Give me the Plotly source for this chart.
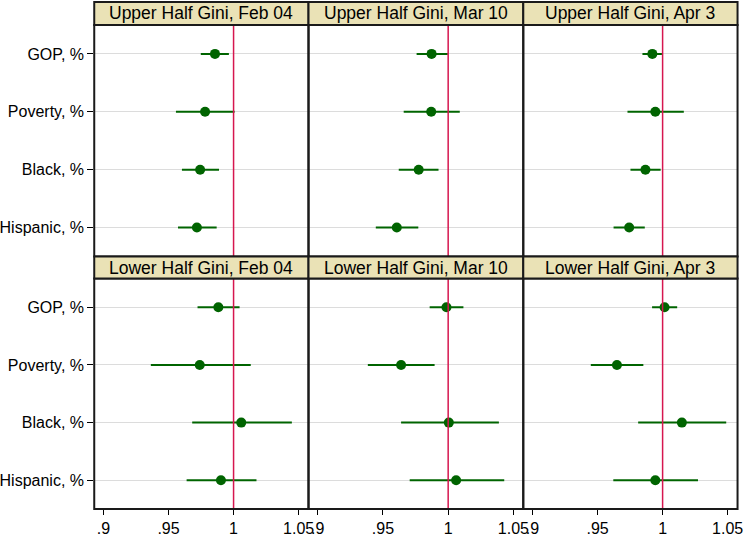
import plotly.graph_objects as go

W, H = 749, 537

variables = ["GOP, %", "Poverty, %", "Black, %", "Hispanic, %"]
titles = ["Upper Half Gini, Feb 04", "Upper Half Gini, Mar 10", "Upper Half Gini, Apr 3",
          "Lower Half Gini, Feb 04", "Lower Half Gini, Mar 10", "Lower Half Gini, Apr 3"]

# point estimates per panel (GOP, Poverty, Black, Hispanic)
est = [
    [0.9857, 0.9781, 0.9743, 0.9718],
    [0.9873, 0.9870, 0.9774, 0.9606],
    [0.9921, 0.9944, 0.9868, 0.9743],
    [0.9883, 0.9740, 1.0059, 0.9903],
    [0.9987, 0.9639, 1.0005, 1.0061],
    [1.0015, 0.9649, 1.0148, 0.9944],
]
ci_lo = [
    [0.9748, 0.9557, 0.9603, 0.9573],
    [0.9758, 0.9659, 0.9621, 0.9445],
    [0.9845, 0.9730, 0.9753, 0.9623],
    [0.9723, 0.9364, 0.9682, 0.9639],
    [0.9858, 0.9384, 0.9639, 0.9705],
    [0.9919, 0.9448, 0.9812, 0.9621],
]
ci_hi = [
    [0.9964, 1.0008, 0.9888, 0.9870],
    [0.9997, 1.0089, 0.9926, 0.9771],
    [0.9995, 1.0163, 0.9985, 0.9863],
    [1.0046, 1.0132, 1.0448, 1.0176],
    [1.0117, 0.9896, 1.0389, 1.0430],
    [1.0112, 0.9852, 1.0489, 1.0272],
]

xtickvals = [0.9, 0.95, 1, 1.05]
xticktext = [".9", ".95", "1", "1.05"]

green = "#006400"
red = "#D6164F"
khaki = "#EAE2B6"
font = "Liberation Sans, Arial, sans-serif"

# panel geometry in pixels
cols_px = [(95, 311), (311, 527.5), (527.5, 743.5)]
rows_px = [((2, 25), (25, 257)), ((257, 279), (279, 510))]


def px_x(v):
    return v / W


def px_y(v):
    return 1 - v / H


fig = go.Figure()
shapes = []
annotations = []

for i in range(6):
    r, c = divmod(i, 3)
    n = i + 1
    xa = "x" if n == 1 else "x%d" % n
    ya = "y" if n == 1 else "y%d" % n
    x0, x1 = cols_px[c]
    (h0, h1), (p0, p1) = rows_px[r]

    ypos = list(range(1, len(variables) + 1))
    for j in range(len(variables)):
        fig.add_trace(go.Scatter(
            x=[ci_lo[i][j], ci_hi[i][j]], y=[ypos[j], ypos[j]],
            mode="lines", line=dict(color=green, width=2),
            xaxis=xa, yaxis=ya, showlegend=False, hoverinfo="skip"))
    fig.add_trace(go.Scatter(
        x=est[i], y=ypos, mode="markers",
        marker=dict(color=green, size=10),
        xaxis=xa, yaxis=ya, showlegend=False))

    xkey = "xaxis" if n == 1 else "xaxis%d" % n
    ykey = "yaxis" if n == 1 else "yaxis%d" % n
    fig.layout[xkey] = dict(
        domain=[px_x(x0), px_x(x1)], anchor=ya, range=[0.8929, 1.0576],
        tickvals=xtickvals, ticktext=xticktext,
        showticklabels=(r == 1), ticks="outside" if r == 1 else "",
        ticklen=5, tickcolor="#000000", tickwidth=1,
        showgrid=False, zeroline=False, showline=False,
        tickfont=dict(family=font, size=16, color="#000000"))
    fig.layout[ykey] = dict(
        domain=[px_y(p1), px_y(p0)], anchor=xa, range=[4.5, 0.5],
        tickvals=ypos, ticktext=variables,
        showticklabels=(c == 0), ticks="outside" if c == 0 else "",
        ticklen=6, tickcolor="#000000", tickwidth=1,
        showgrid=True, gridcolor="#DCDCDC", gridwidth=1,
        zeroline=False, showline=False,
        tickfont=dict(family=font, size=16, color="#000000"))

    # reference line at 1
    shapes.append(dict(type="line", xref=xa, yref=ya + " domain", x0=1, x1=1, y0=0, y1=1,
                       line=dict(color=red, width=1.5), layer="above"))
    # panel frame
    shapes.append(dict(type="rect", xref="paper", yref="paper",
                       x0=px_x(x0), x1=px_x(x1), y0=px_y(p1), y1=px_y(p0),
                       line=dict(color="#1a1a1a", width=2), layer="above"))
    # header strip
    shapes.append(dict(type="rect", xref="paper", yref="paper",
                       x0=px_x(x0), x1=px_x(x1), y0=px_y(h1), y1=px_y(h0),
                       fillcolor=khaki, line=dict(color="#1a1a1a", width=2), layer="above"))
    annotations.append(dict(text=titles[i], xref="paper", yref="paper",
                            x=(px_x(x0) + px_x(x1)) / 2, y=(px_y(h0) + px_y(h1)) / 2,
                            xanchor="center", yanchor="middle", showarrow=False,
                            font=dict(family=font, size=17.5, color="#000000")))

fig.update_layout(
    width=W, height=H, margin=dict(l=0, r=0, t=0, b=0),
    paper_bgcolor="white", plot_bgcolor="white",
    shapes=shapes, annotations=annotations, showlegend=False)

fig.write_html("out.html", config={"displayModeBar": False},
               post_script="document.body.style.margin='0';")
